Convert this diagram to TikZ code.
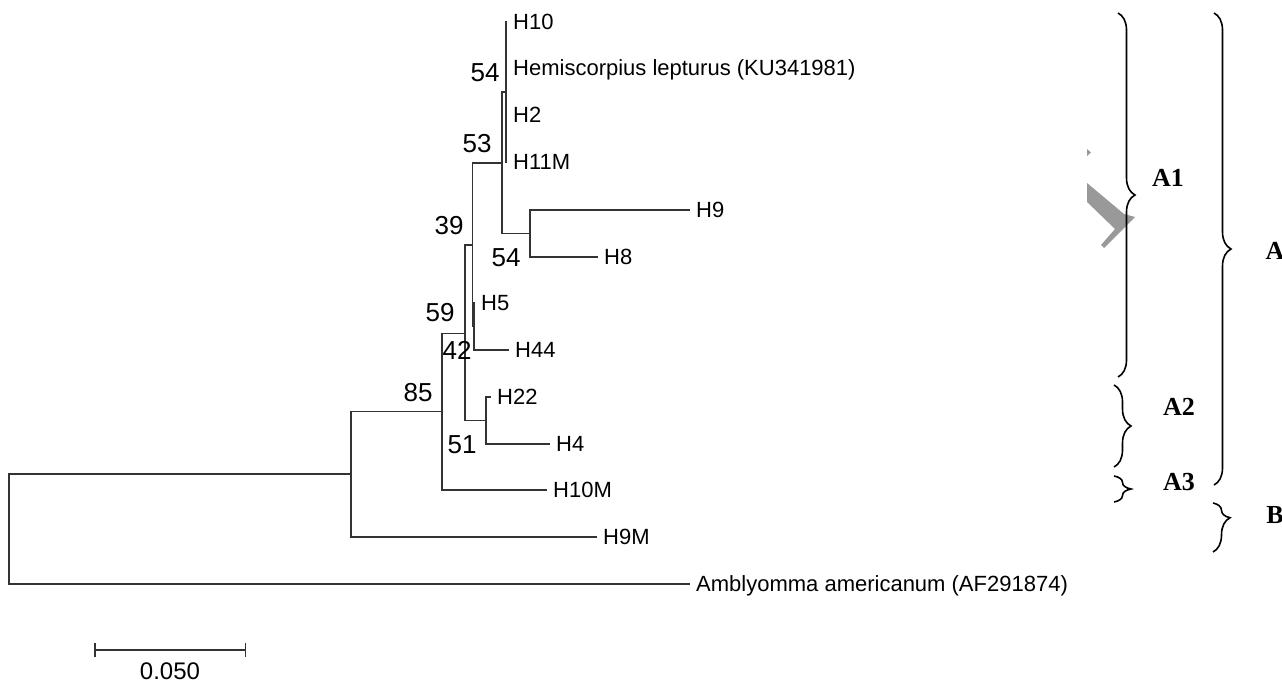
\documentclass[tikz,border=0pt]{standalone}
\usepackage{fontspec}
\setmainfont{Liberation Serif}
\setsansfont{Liberation Sans}
\usetikzlibrary{arrows.meta, decorations.pathreplacing}
\tikzstyle{branch} = [
    line width=1.5pt,
    draw=black!80
]
\tikzstyle{leaf} = [
    anchor=west,
    inner xsep=6pt,
    inner ysep=0pt,
    text height=15.7pt,
    text depth=0pt,
    font=\sffamily\fontsize{22}{22}\selectfont
]
\tikzstyle{boot} = [
    inner sep=0pt,
    font=\sffamily\fontsize{26}{26}\selectfont
]
\tikzstyle{clade} = [
    line width=1.6pt,
    decorate,
    decoration={brace, amplitude=17pt}
]
\tikzstyle{cladename} = [
    inner sep=0pt,
    font=\bfseries\fontsize{26}{26}\selectfont
]

\begin{document}
\begin{tikzpicture}[x=1pt, y=-1pt]
\useasboundingbox (0,0) rectangle (1282,685);

\coordinate (root) at (9,528.5);
\coordinate (n1) at (351,474);
\coordinate (n2) at (442,411.5);
\coordinate (n3) at (465,333.5);
\coordinate (n4) at (472.5,245);
\coordinate (n5) at (486,420.5);
\coordinate (n6) at (502,163);
\coordinate (n7) at (473.8,326.5);
\coordinate (n8) at (506,92);
\coordinate (n9) at (530,233.5);

\node (h10) [leaf] at (507,22) {H10};
\node (hemi) [leaf] at (507,68) {Hemiscorpius lepturus (KU341981)};
\node (h2) [leaf] at (507,115) {H2};
\node (h11m) [leaf] at (507,162) {H11M};
\node (h9) [leaf] at (690,210) {H9};
\node (h8) [leaf] at (598,257) {H8};
\node (h5) [leaf] at (475,303) {H5};
\node (h44) [leaf] at (509,350) {H44};
\node (h22) [leaf] at (491,397) {H22};
\node (h4) [leaf] at (550,444) {H4};
\node (h10m) [leaf] at (547,490) {H10M};
\node (h9m) [leaf] at (597,537) {H9M};
\node (amb) [leaf] at (690,584) {Amblyomma americanum (AF291874)};

\draw [branch] (root) |- (n1);
\draw [branch] (root) |- (amb.west);
\draw [branch] (n1) |- (n2);
\draw [branch] (n1) |- (h9m.west);
\draw [branch] (n2) |- (n3);
\draw [branch] (n2) |- (h10m.west);
\draw [branch] (n3) |- (n4);
\draw [branch] (n3) |- (n5);
\draw [branch] (n5) |- (h22.west);
\draw [branch] (n5) |- (h4.west);
\draw [branch] (n4) |- (n6);
\draw [branch] (n4) |- (n7);
\draw [branch] (n7) |- (h5.west);
\draw [branch] (n7) |- (h44.west);
\draw [branch] (n6) |- (n8);
\draw [branch] (n6) |- (n9);
\draw [branch] (n9) |- (h9.west);
\draw [branch] (n9) |- (h8.west);
\draw [branch] (n8) |- (h10.west);
\draw [branch] (n8) |- (hemi.west);
\draw [branch] (n8) |- (h2.west);
\draw [branch] (n8) |- (h11m.west);

\node (b54a) [boot] at (485,73) {54};
\node (b53) [boot] at (477,144) {53};
\node (b39) [boot] at (449,226) {39};
\node (b54b) [boot] at (506,258) {54};
\node (b59) [boot] at (440,313) {59};
\node (b42) [boot] at (457,350) {42};
\node (b85) [boot] at (418,393) {85};
\node (b51) [boot] at (462,445) {51};

\coordinate (sbl) at (94,650);
\coordinate (sbr) at (246,650);
\draw [branch, {Bar[width=14pt]}-{Bar[width=14pt]}] (sbl) -- (sbr);
\node (sblabel) [boot, font=\sffamily\fontsize{24}{24}\selectfont] at (170,671) {0.050};

\fill [black!40] (1087,149) -- (1091,152.5) -- (1087,156) -- cycle;
\fill [black!40] (1087,183) -- (1124,214) -- (1135,217) -- (1126,226)
    -- (1104,248) -- (1101,245) -- (1115,229) -- (1087,202) -- cycle;

\coordinate (a1t) at (1118,13);
\coordinate (a1b) at (1118,377);
\coordinate (a2t) at (1114,385);
\coordinate (a2b) at (1114,467);
\coordinate (a3t) at (1114,476);
\coordinate (a3b) at (1114,502);
\coordinate (at) at (1214,13);
\coordinate (ab) at (1214,485);
\coordinate (bt) at (1213,503);
\coordinate (bb) at (1213,552);

\draw [clade] (a1t) -- (a1b);
\draw [clade] (a2t) -- (a2b);
\draw [clade] (a3t) -- (a3b);
\draw [clade] (at) -- (ab);
\draw [clade, decoration={aspect=0.3}] (bt) -- (bb);

\node (a1) [cladename] at (1168,178) {A1};
\node (a2) [cladename] at (1179,407) {A2};
\node (a3) [cladename] at (1179,482) {A3};
\node (a) [cladename] at (1275,251) {A};
\node (b) [cladename] at (1275,515) {B};

\end{tikzpicture}
\end{document}
